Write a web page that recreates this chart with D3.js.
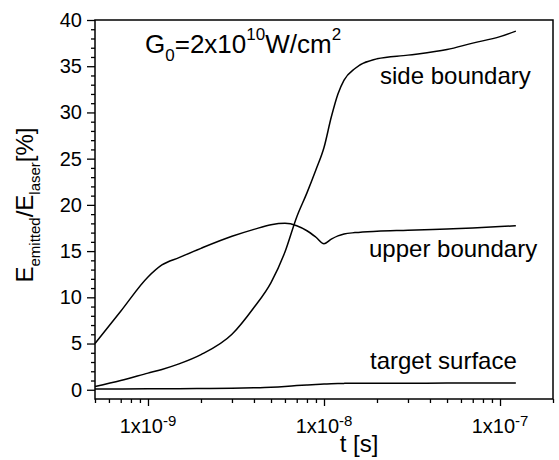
<!DOCTYPE html>
<html><head><meta charset="utf-8">
<script src="https://cdn.jsdelivr.net/npm/d3@7"></script>
<style>
body{margin:0;background:#fff}
text{font-family:"Liberation Sans",Arial,Helvetica,sans-serif;fill:#000}
</style>
</head><body>
<svg id="c" width="559" height="460"></svg>
<script>
// ---- data ----
const times = [5e-10, 7e-10, 1e-9, 1.2e-9, 1.5e-9, 2e-9, 3e-9, 4e-9, 5e-9, 6e-9, 7e-9, 8e-9, 9e-9,
               1e-8, 1.1e-8, 1.2e-8, 1.3e-8, 1.5e-8, 2e-8, 3e-8, 5e-8, 7e-8, 1e-7, 1.23e-7];
const sideBoundary  = [0.35, 1.0, 1.8, 2.2, 2.8, 3.8, 6.0, 8.9, 11.6, 14.9, 18.7, 21.3, 23.8,
                       26.2, 29.5, 32.0, 33.5, 34.75, 35.8, 36.2, 36.8, 37.5, 38.2, 38.8];
const upperBoundary = [5.0, 8.5, 12.2, 13.5, 14.3, 15.3, 16.6, 17.35, 17.85, 18.0, 17.75, 17.2, 16.5,
                       15.8, 16.3, 16.65, 16.85, 17.0, 17.15, 17.25, 17.4, 17.5, 17.65, 17.75];
const targetSurface = [0.08, 0.09, 0.1, 0.11, 0.12, 0.13, 0.17, 0.22, 0.28, 0.36, 0.45, 0.52, 0.58,
                       0.62, 0.66, 0.68, 0.69, 0.7, 0.7, 0.71, 0.72, 0.72, 0.72, 0.72];
const seriesNames = ["side boundary", "upper boundary", "target surface"];
const yMajorTicks = [0, 5, 10, 15, 20, 25, 30, 35, 40];
const xMajorTicks = [1e-9, 1e-8, 1e-7];
const xTickExponents = ["-9", "-8", "-7"];

// ---- layout ----
const L = 95, R = 553, T = 20, B = 399;
const svg = d3.select("#c");

const x = d3.scaleLog().domain([5e-10, 2e-7]).range([L, R]);
const y = d3.scaleLinear().domain([-1, 40]).range([B, T]);

// minor ticks
const yMinor = d3.range(0, 41, 1).filter(v => !yMajorTicks.includes(v));
const xMinor = x.ticks().filter(v => !xMajorTicks.some(m => Math.abs(m - v) / m < 1e-6));

// left axis
const gy = svg.append("g").attr("transform", `translate(${L},0)`);
gy.call(d3.axisLeft(y).tickValues(yMajorTicks).tickSize(8).tickPadding(5).tickFormat(d3.format("d")));
gy.append("g").call(d3.axisLeft(y).tickValues(yMinor).tickSize(4).tickFormat(""));
gy.selectAll(".domain").remove();
gy.selectAll("line").attr("stroke", "#000").attr("stroke-width", 1.3);
gy.selectAll("text").attr("font-size", 20).attr("fill", "#000").style("font-family", "Liberation Sans, Arial, sans-serif");

// bottom axis
const gx = svg.append("g").attr("transform", `translate(0,${B})`);
gx.call(d3.axisBottom(x).tickValues(xMajorTicks).tickSize(7).tickFormat(""));
gx.append("g").call(d3.axisBottom(x).tickValues(xMinor).tickSize(4).tickFormat(""));
gx.selectAll(".domain").remove();
gx.selectAll("line").attr("stroke", "#000").attr("stroke-width", 1.3);

// x tick labels with superscripts
xMajorTicks.forEach((v, i) => {
  const t = svg.append("text").attr("x", x(v)).attr("y", 433).attr("text-anchor", "middle").attr("font-size", 20);
  t.append("tspan").text("1x10");
  t.append("tspan").attr("font-size", 15).attr("dy", -7).text(xTickExponents[i]);
});

// frame
svg.append("rect").attr("x", L).attr("y", T).attr("width", R - L).attr("height", B - T)
  .attr("fill", "none").attr("stroke", "#000").attr("stroke-width", 1.5);

// lines
const line = vals => d3.line().x((d, i) => x(times[i])).y(d => y(d)).curve(d3.curveMonotoneX)(vals);
[sideBoundary, upperBoundary, targetSurface].forEach(vals => {
  svg.append("path").attr("d", line(vals)).attr("fill", "none").attr("stroke", "#000").attr("stroke-width", 1.5);
});

// series labels
const labelPos = [[380, 84], [369, 257], [370, 369]];
seriesNames.forEach((s, i) => {
  svg.append("text").attr("x", labelPos[i][0]).attr("y", labelPos[i][1]).attr("font-size", 24).text(s);
});

// G0 annotation
const g0 = svg.append("text").attr("x", 145).attr("y", 53).attr("font-size", 26);
g0.append("tspan").text("G");
g0.append("tspan").attr("font-size", 17).attr("dy", 8).text("0");
g0.append("tspan").attr("dy", -8).text("=2x10");
g0.append("tspan").attr("font-size", 17).attr("dy", -13).text("10");
g0.append("tspan").attr("dy", 13).text("W/cm");
g0.append("tspan").attr("font-size", 17).attr("dy", -13).text("2");

// axis titles
svg.append("text").attr("x", 359).attr("y", 452).attr("text-anchor", "middle").attr("font-size", 24).text("t [s]");
const yt = svg.append("text").attr("transform", "translate(33,205) rotate(-90)").attr("text-anchor", "middle").attr("font-size", 24);
yt.append("tspan").text("E");
yt.append("tspan").attr("font-size", 15).attr("dy", 7).text("emitted");
yt.append("tspan").attr("dy", -7).text("/E");
yt.append("tspan").attr("font-size", 15).attr("dy", 7).text("laser");
yt.append("tspan").attr("dy", -7).text("[%]");
</script>
</body></html>
